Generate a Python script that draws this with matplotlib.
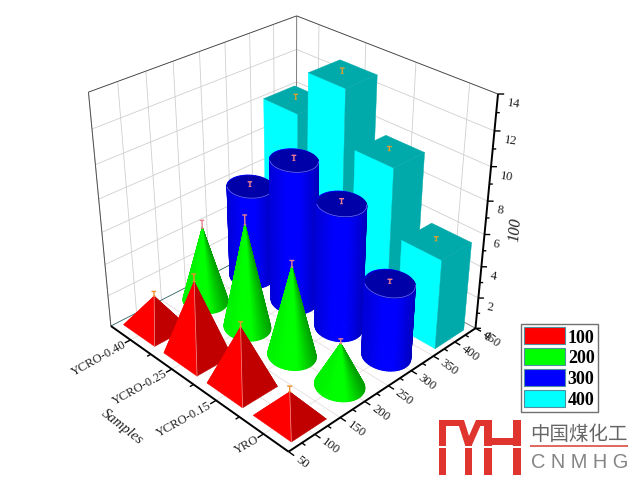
import numpy as np
import matplotlib
matplotlib.use('Agg')
import matplotlib.pyplot as plt
from matplotlib.patches import Patch, Polygon, Rectangle
from mpl_toolkits.mplot3d import proj3d
from mpl_toolkits.mplot3d.art3d import Poly3DCollection

W, H = 634, 481
SERIF = 'Liberation Serif'

samples = ['YRO', 'YCRO-0.15', 'YCRO-0.25', 'YCRO-0.40']
series = [100, 200, 300, 400]
values_100 = [1.6, 3.65, 4.65, 2.0]
values_200 = [2.65, 5.55, 6.5, 4.75]
values_300 = [4.6, 7.8, 8.95, 5.95]
values_400 = [5.6, 9.55, 12.8, 10.1]
errors_100 = [0.35, 0.3, 0.45, 0.3]
errors_200 = [0.3, 0.4, 0.6, 0.5]
errors_300 = [0.25, 0.3, 0.3, 0.3]
errors_400 = [0.25, 0.25, 0.3, 0.3]
x_ticks = [50, 100, 150, 200, 250, 300, 350, 400, 450]
z_ticks = [0, 2, 4, 6, 8, 10, 12, 14]

colors = ['#ff0000', '#00ff00', '#0000ff', '#00ffff']
err_colors = ['#f09030', '#e88090', '#f08090', '#d8a030']

X0, X1, Y0, Y1, Z0, Z1 = 50, 450, 0.5, 4.5, 0, 14
BAR_X, BAR_Y = 68, 0.775
ELEV, AZIM, FOCAL = 31.21, -134.10, 0.4907
CX, CY, S = 286.72, 224.10, 458.67

fig = plt.figure(figsize=(W/100, H/100), dpi=100, facecolor='white')
ax = fig.add_axes([(CX-S/2)/W, 1-(CY+S/2)/H, S/W, S/H], projection='3d', computed_zorder=False)
ax.set_xlim(X0, X1)
ax.set_ylim(Y0, Y1)
ax.set_zlim(Z0, Z1)
ax.view_init(ELEV, AZIM)
ax.set_proj_type('persp', focal_length=FOCAL)
ax.set_box_aspect((1, 0.9898, 0.9948))
ax.set_axis_off()

cam = np.array([np.cos(np.radians(AZIM)), np.sin(np.radians(AZIM))])
right = np.array([-cam[1], cam[0]])


def line(xs, ys, zs, color='black', lw=0.6, z=1):
    ax.plot(xs, ys, zs, color=color, lw=lw, zorder=z, clip_on=False, solid_capstyle='butt')


def polys(faces, face_colors, z, lw=0.3):
    pc = Poly3DCollection(faces, facecolors=face_colors, edgecolors=face_colors, linewidths=lw, zorder=z)
    pc.set_clip_on(False)
    ax.add_collection3d(pc, autolim=False)


def label(x, y, z, s, rot, ha, size=9.2):
    a, b, _ = proj3d.proj_transform(x, y, z, ax.get_proj())
    ax.text2D(a, b, s, transform=ax.transData, family=SERIF, fontsize=size, color='#202020', ha=ha, va='center',
              rotation=rot, rotation_mode='anchor', zorder=600, clip_on=False)


def shade(base, t, low_left, low_right):
    s = np.cos(t)*right[0] + np.sin(t)*right[1]
    k = np.interp(s, [-1, -0.4, 0.1, 1], [low_left, 1, 1, low_right])
    return tuple(np.array(matplotlib.colors.to_rgb(base))*k)


def pyramid(x, y, h, color, z):
    x0, x1, y0, y1 = x-BAR_X/2, x+BAR_X/2, y-BAR_Y/2, y+BAR_Y/2
    a = (x, y, h)
    faces = [[(x0, y1, 0), (x1, y1, 0), a], [(x1, y1, 0), (x1, y0, 0), a],
             [(x0, y1, 0), (x0, y0, 0), a], [(x0, y0, 0), (x1, y0, 0), a]]
    polys(faces, ['#e00000', '#b00000', color, '#c00000'], z)
    line([x0, x], [y0, y], [0, h], '#ff9090', 0.5, z)


def cone(x, y, h, color, z):
    t = np.linspace(0, 2*np.pi, 73)
    px = x + BAR_X/2*np.cos(t)
    py = y + BAR_Y/2*np.sin(t)
    faces = [[(px[i], py[i], 0), (px[i+1], py[i+1], 0), (x, y, h)] for i in range(72)]
    polys(faces, [shade(color, t[i], 0.95, 0.62) for i in range(72)], z, 0.8)


def cylinder(x, y, h, color, z):
    t = np.linspace(0, 2*np.pi, 73)
    px = x + BAR_X/2*np.cos(t)
    py = y + BAR_Y/2*np.sin(t)
    faces = [[(px[i], py[i], 0), (px[i+1], py[i+1], 0), (px[i+1], py[i+1], h), (px[i], py[i], h)] for i in range(72)]
    polys(faces, [shade(color, t[i], 0.85, 0.72) for i in range(72)], z, 0.8)
    polys([list(zip(px, py, np.full(73, h)))], ['#0000a8'], z)
    front = np.cos(t)*cam[0] + np.sin(t)*cam[1] > 0
    line(px[front], py[front], np.full(front.sum(), h), '#7070ff', 0.5, z)


def block(x, y, h, color, z):
    x0, x1, y0, y1 = x-BAR_X/2, x+BAR_X/2, y-BAR_Y/2, y+BAR_Y/2
    left = [(x0, y1, 0), (x0, y0, 0), (x0, y0, h), (x0, y1, h)]
    side = [(x0, y0, 0), (x1, y0, 0), (x1, y0, h), (x0, y0, h)]
    top = [(x0, y0, h), (x1, y0, h), (x1, y1, h), (x0, y1, h)]
    polys([left], [color], z)
    polys([side], ['#00aaaa'], z)
    polys([top], ['#00aaaa'], z)


def err_mark(x, y, h, e, color, z):
    line([x, x], [y, y], [h, h+e], color, 1.0, z)
    line([x-2.5, x+2.5], [y+0.025, y-0.025], [h+e, h+e], color, 1.0, z)
    line([x-1.5, x+1.5], [y+0.015, y-0.015], [h, h], color, 0.7, z)


# walls and floor
for v in x_ticks:
    line([v, v], [Y1, Y1], [Z0, Z1], '#cfcfcf')
    line([v, v], [Y0, Y1], [Z0, Z0], '#e6dedc')
for i in range(len(samples)):
    line([X1, X1], [i+1, i+1], [Z0, Z1], '#cfcfcf')
    line([X0, X1], [i+1, i+1], [Z0, Z0], '#e6dedc')
for v in z_ticks[1:]:
    line([X0, X1], [Y1, Y1], [v, v], '#cfcfcf')
    line([X1, X1], [Y0, Y1], [v, v], '#cfcfcf')

# box outline
line([X0, X0], [Y1, Y1], [Z0, Z1], '#505050', 0.7, 2)
line([X1, X1], [Y1, Y1], [Z0, Z1], '#808080', 0.7, 2)
line([X0, X1], [Y1, Y1], [Z1, Z1], '#404040', 0.6, 2)
line([X1, X1], [Y0, Y1], [Z1, Z1], '#404040', 0.6, 2)
line([X0, X1], [Y1, Y1], [Z0, Z0], '#306060', 0.6, 2)
line([X1, X1], [Y0, Y1], [Z0, Z0], '#808080', 0.6, 2)

# axes and ticks
line([X0, X0], [Y0, Y1], [Z0, Z0], 'black', 1.4, 500)
line([X0, X1], [Y0, Y0], [Z0, Z0], 'black', 1.4, 500)
line([X1, X1], [Y0, Y0], [Z0, Z1], 'black', 1.4, 500)
for v in np.arange(1, 4.5, 0.5):
    d = 11 if v == int(v) else 7
    line([X0, X0-d], [v, v], [Z0, Z0], 'black', 1.0, 500)
for v in x_ticks:
    line([v, v], [Y0, Y0-0.11], [Z0, Z0], 'black', 1.0, 500)
for v in x_ticks[:-1]:
    line([v+25, v+25], [Y0, Y0-0.07], [Z0, Z0], 'black', 1.0, 500)
for v in z_ticks:
    line([X1, X1+6], [Y0, Y0-0.06], [v, v], 'black', 1.0, 500)
for v in z_ticks[:-1]:
    line([X1, X1+3.5], [Y0, Y0-0.035], [v+1, v+1], 'black', 1.0, 500)

for i, name in enumerate(samples):
    label(X0-10, i+1, 0, name, 29, 'right', 9.0)
for v in x_ticks:
    label(v, Y0-0.16, 0, str(v), -37, 'left')
for v in z_ticks:
    label(X1+3, Y0-0.15, v-0.3, str(v), -8, 'left')

# marks, far ones first
values = [values_100, values_200, values_300, values_400]
errors = [errors_100, errors_200, errors_300, errors_400]
painters = [pyramid, cone, cylinder, block]
marks = [(j, i) for j in range(len(series)) for i in range(len(samples))]
marks.sort(key=lambda m: -(series[m[0]]/400 + (m[1]+1)/4))
zo = 10
for j, i in marks:
    painters[j](series[j], i+1, values[j][i], colors[j], zo)
    err_mark(series[j], i+1, values[j][i], errors[j][i], err_colors[j], zo+1)
    zo += 2


def fx(px):
    return px/W


def fy(py):
    return 1-py/H


fig.text(fx(122), fy(427), 'Samples', family=SERIF, style='italic', fontsize=10.5, color='#202020',
         rotation=-38, ha='center', va='center')
fig.text(fx(515), fy(230), '100', family=SERIF, style='italic', fontsize=11.5, color='#202020',
         rotation=85, ha='center', va='center')

handles = [Patch(facecolor=c, edgecolor='#4f8f9f', lw=0.8) for c in colors]
fig.legend(handles, [str(s) for s in series], loc='lower left', bbox_to_anchor=(fx(520.5), fy(412.5)),
           borderaxespad=0, frameon=True, fancybox=False, edgecolor='#707070', framealpha=1,
           prop={'family': SERIF, 'weight': 'bold', 'size': 13}, handlelength=2.28, handleheight=1.1,
           labelspacing=0.12, borderpad=0.17, handletextpad=0.17)

# logo
RED = '#e0352f'
logo = [
    [(439, 421), (446, 421), (446, 476), (439, 476)],
    [(439, 421), (460, 421), (460, 427), (439, 427)],
    [(457, 421), (464, 421), (469, 437), (476, 421), (483, 421), (472, 446), (472, 476), (465, 476), (465, 446)],
    [(476, 421), (492, 421), (492, 427), (476, 427)],
    [(484, 421), (492, 421), (492, 476), (484, 476)],
    [(492, 439), (513, 439), (513, 446), (492, 446)],
    [(513, 421), (520.5, 421), (520.5, 476), (513, 476)],
]
for pts in logo:
    fig.add_artist(Polygon([(fx(a), fy(b)) for a, b in pts], closed=True, facecolor=RED, edgecolor='none',
                           transform=fig.transFigure))
fig.add_artist(Rectangle((fx(438), fy(448.5)), 84/W, 2/H, facecolor='white', edgecolor='none', transform=fig.transFigure))
fig.add_artist(Rectangle((fx(530), fy(447.6)), 98/W, 1.4/H, facecolor='#e06a60', edgecolor='none', transform=fig.transFigure))
fig.text(fx(579), fy(434), '中国煤化工', family=['Noto Sans CJK SC', 'DejaVu Sans'], fontsize=14, color='#666666',
         ha='center', va='center')
fig.text(fx(580), fy(462), 'C N M H G', family='Liberation Sans', fontsize=14.4, color='#858585', ha='center', va='center')

fig.savefig('out.png', dpi=100)
